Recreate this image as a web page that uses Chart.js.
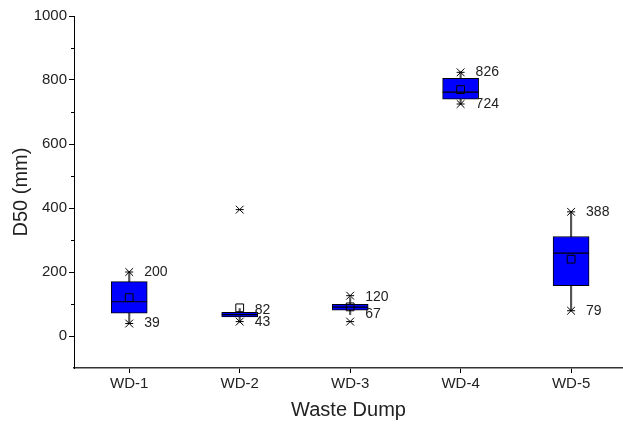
<!DOCTYPE html>
<html>
<head>
<meta charset="utf-8">
<script src="https://cdn.jsdelivr.net/npm/chart.js@4.4.1/dist/chart.umd.min.js"></script>
<style>
  html, body { margin: 0; padding: 0; background: #fff; }
  #wrap { width: 623px; height: 425px; position: relative; }
</style>
</head>
<body>
<div id="wrap"><canvas id="myChart"></canvas></div>
<script>
// categories along x
var dumps = ['WD-1', 'WD-2', 'WD-3', 'WD-4', 'WD-5'];

// box values (mm)
var q1 = [71, 60, 81, 740, 157];
var q3 = [170, 74, 99, 805, 311];
var median = [107, 67, 90, 762, 259];
var mean = [120, 88, 91, 770, 240];
var whiskerLow = [39, 43, 67, 724, 79];
var whiskerHigh = [200, 86, 120, 826, 388];

// x marks (extremes / outliers)
var extremeX = [1, 1, 2, 2, 3, 3, 4, 4, 5, 5];
var extremeY = [200, 39, 395, 45, 126, 45, 824, 725, 388, 79];

// value labels printed next to the boxes
var labelTop = [200, 82, 120, 826, 388];
var labelBottom = [39, 43, 67, 724, 79];

var yTicks = [0, 200, 400, 600, 800, 1000];

const FONT = '"Liberation Sans", Arial, sans-serif';

const pos = (i) => i + 1;

// labels + minor ticks
const extras = {
  id: 'extras',
  afterDraw(chart) {
    const ctx = chart.ctx;
    const xs = chart.scales.x, ys = chart.scales.y;
    ctx.save();
    // minor ticks on y axis
    ctx.strokeStyle = '#000';
    ctx.lineWidth = 1;
    for (let v = 100; v < 1000; v += 200) {
      const py = Math.round(ys.getPixelForValue(v)) + 0.5;
      ctx.beginPath();
      ctx.moveTo(xs.left - 3, py);
      ctx.lineTo(xs.left, py);
      ctx.stroke();
    }
    ctx.fillStyle = '#222';
    ctx.font = '14px ' + FONT;
    ctx.textBaseline = 'middle';
    ctx.textAlign = 'left';
    dumps.forEach((d, i) => {
      const px = xs.getPixelForValue(pos(i)) + 15;
      ctx.fillText(String(labelTop[i]), px, ys.getPixelForValue(labelTop[i]));
      ctx.fillText(String(labelBottom[i]), px, ys.getPixelForValue(labelBottom[i]));
    });
    ctx.restore();
  }
};

const ctx = document.getElementById('myChart').getContext('2d');
const chart = new Chart(ctx, {
  type: 'bar',
  data: {
    datasets: [
      {
        type: 'scatter',
        label: 'mean',
        data: mean.map((v, i) => ({ x: pos(i), y: v })),
        pointStyle: 'rect',
        pointRadius: 5.5,
        backgroundColor: 'rgba(0,0,0,0)',
        borderColor: '#000',
        borderWidth: 1,
        order: 0
      },
      {
        type: 'scatter',
        label: 'median',
        data: median.map((v, i) => ({ x: pos(i), y: v })),
        pointStyle: 'line',
        pointRadius: 18,
        borderColor: '#000',
        borderWidth: 1.2,
        order: 1
      },
      {
        type: 'scatter',
        label: 'extremes',
        data: extremeY.map((v, i) => ({ x: extremeX[i], y: v })),
        pointStyle: 'crossRot',
        pointRadius: 5.5,
        borderColor: '#000',
        borderWidth: 1,
        order: 0
      },
      {
        type: 'scatter',
        label: 'extreme dash',
        data: extremeY.map((v, i) => ({ x: extremeX[i], y: v })),
        pointStyle: 'line',
        pointRadius: 4,
        borderColor: '#000',
        borderWidth: 1,
        order: 0
      },
      {
        label: 'box',
        data: q1.map((v, i) => ({ x: pos(i), y: [v, q3[i]] })),
        backgroundColor: '#0000ff',
        borderColor: '#000',
        borderWidth: 1,
        borderSkipped: false,
        barThickness: 36,
        grouped: false,
        order: 4
      },
      {
        label: 'whisker',
        data: whiskerLow.map((v, i) => ({ x: pos(i), y: [v, whiskerHigh[i]] })),
        backgroundColor: '#555',
        borderWidth: 0,
        barThickness: 1.5,
        grouped: false,
        order: 5
      }
    ]
  },
  options: {
    responsive: true,
    maintainAspectRatio: false,
    animation: false,
    layout: { autoPadding: false, padding: { top: 16, right: 0, left: 5, bottom: 0 } },
    plugins: {
      legend: { display: false },
      tooltip: { enabled: false }
    },
    scales: {
      x: {
        type: 'linear',
        offset: false,
        min: 0.5,
        max: 5.47,
        afterBuildTicks: (s) => { s.ticks = dumps.map((d, i) => ({ value: pos(i) })); },
        afterFit: (s) => { s.height = 57; s.paddingLeft = 0; s.paddingRight = 0; },
        grid: { offset: false, drawOnChartArea: false, tickLength: 5, tickColor: '#000' },
        border: { color: '#333', width: 1.5 },
        ticks: {
          callback: (v) => dumps[v - 1],
          color: '#222',
          font: { family: FONT, size: 15 },
          padding: 2,
          maxRotation: 0
        },
        title: {
          display: true,
          text: 'Waste Dump',
          color: '#222',
          font: { family: FONT, size: 20 },
          padding: { top: 2, bottom: 3 }
        }
      },
      y: {
        min: -100,
        max: 1000,
        afterBuildTicks: (s) => { s.ticks = yTicks.map((v) => ({ value: v })); },
        afterFit: (s) => { s.width = 69; },
        grid: { drawOnChartArea: false, tickLength: 5, tickColor: '#000' },
        border: { color: '#000', width: 1 },
        ticks: {
          callback: (v) => String(v),
          color: '#222',
          font: { family: FONT, size: 15 },
          padding: 2
        },
        title: {
          display: true,
          text: 'D50 (mm)',
          color: '#222',
          font: { family: FONT, size: 20 },
          padding: { top: 4, bottom: 4 }
        }
      }
    }
  },
  plugins: [extras]
});
</script>
</body>
</html>
